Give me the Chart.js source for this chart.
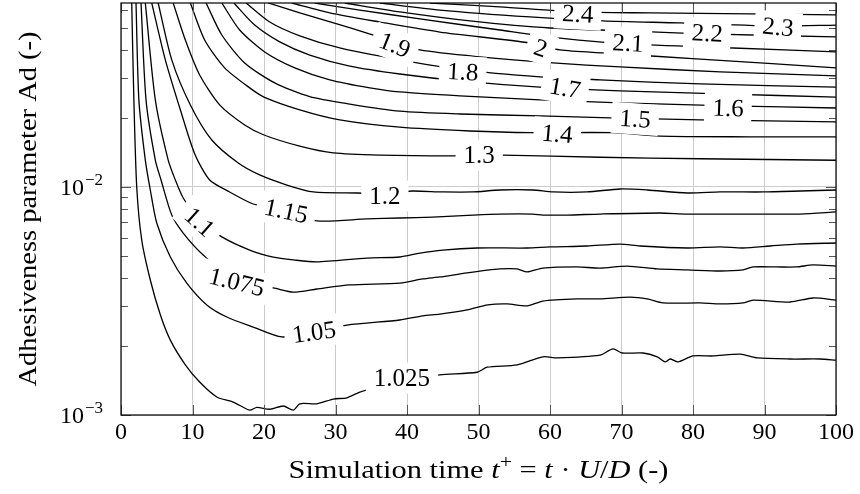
<!DOCTYPE html>
<html><head><meta charset="utf-8">
<script src="https://cdn.jsdelivr.net/npm/chart.js@4.4.0/dist/chart.umd.min.js"></script>
<style>html,body{margin:0;padding:0;background:#fff;}#wrap{width:860px;height:494px;}</style>
</head><body><div id="wrap"><canvas id="c" width="860" height="494"></canvas></div>
<script>
// Contour levels: each is a list of [t+, Ad] points
const L1025 = [[1.5,0.0641],[1.8,0.0241],[2.2,0.0100],[2.9,0.00585],[4.1,0.00391],[5.5,0.00275],[6.9,0.00213],[9.0,0.00166],[11.0,0.001395],[13.4,0.00120],[15.7,0.00114],[18.0,0.00105],[19.0,0.00108],[20.8,0.00106],[22.7,0.001095],[24.1,0.00105],[25.0,0.00112],[27.4,0.00112],[29.7,0.001175],[31.6,0.00119],[33.4,0.00126],[39.0,0.00142],[44.6,0.00150],[49.8,0.00154],[51.2,0.00162],[55.4,0.00166],[59.0,0.00180],[61.0,0.00178],[67.0,0.00183],[68.8,0.00195],[70.1,0.00187],[73.0,0.00187],[75.0,0.00180],[76.1,0.00171],[76.8,0.00176],[77.9,0.00171],[80.0,0.001815],[82.8,0.001815],[86.6,0.00185],[89.0,0.00178],[93.6,0.00176],[97.8,0.00176],[100,0.00174]];
const L105 = [[2.1,0.0641],[2.5,0.0241],[3.4,0.01312],[4.1,0.00970],[5.0,0.00695],[6.9,0.00493],[9.2,0.00379],[12.0,0.00304],[14.8,0.00269],[18.5,0.00243],[22.5,0.00220],[27.1,0.00231],[31.6,0.00248],[39.0,0.00261],[42.2,0.00272],[44.6,0.00277],[48.4,0.00289],[51.3,0.00304],[54.0,0.00307],[56.8,0.00301],[59.0,0.00316],[63.8,0.00323],[67.0,0.00323],[71.2,0.00329],[73.6,0.00323],[75.8,0.00310],[81.0,0.00310],[83.8,0.00307],[87.0,0.00310],[88.4,0.00319],[93.6,0.00313],[96.8,0.00326],[100,0.00319]];
const L1075 = [[2.8,0.0641],[3.5,0.0241],[4.8,0.01312],[5.6,0.01073],[7.1,0.00753],[8.7,0.00628],[11.5,0.00503],[16.2,0.00383],[21.3,0.00361],[24.1,0.00346],[27.4,0.00357],[32.0,0.00372],[39.0,0.00379],[42.2,0.00395],[44.6,0.00403],[48.4,0.00420],[53.0,0.00437],[55.4,0.00437],[56.8,0.00424],[59.0,0.00441],[63.8,0.00446],[67.0,0.00441],[70.8,0.00450],[75.0,0.00437],[79.2,0.00433],[83.8,0.00428],[87.0,0.00433],[88.4,0.00446],[91.7,0.00446],[94.5,0.00446],[96.8,0.00455],[100,0.00450]];
const L11 = [[3.4,0.0641],[4.8,0.0241],[6.6,0.01312],[7.6,0.01073],[8.7,0.00895],[11.0,0.00716],[14.1,0.00604],[18.0,0.00529],[21.3,0.00493],[24.1,0.00479],[27.4,0.00469],[34.4,0.00488],[39.0,0.00493],[41.8,0.00513],[45.0,0.00529],[49.8,0.00540],[56.8,0.00540],[60.0,0.00546],[65.2,0.00551],[69.8,0.00562],[72.6,0.00551],[79.2,0.00540],[83.8,0.00546],[87.0,0.00540],[90.8,0.00551],[94.5,0.00562],[100,0.00568]];
const L115 = [[4.3,0.0641],[6.2,0.0361],[8.3,0.0218],[10.3,0.0140],[12.4,0.01073],[15.2,0.00951],[18.5,0.00842],[22.9,0.00785],[27.4,0.00710],[34.4,0.00724],[39.0,0.00731],[43.6,0.00738],[49.2,0.00753],[53.0,0.00761],[57.6,0.00761],[59.0,0.00753],[62.4,0.00753],[67.0,0.00761],[75.4,0.00769],[79.2,0.00761],[90.4,0.00761],[95.0,0.00761],[100,0.00777]];
const L12 = [[5.2,0.0641],[7.1,0.0361],[9.7,0.0229],[12.7,0.01607],[16.4,0.01274],[19.4,0.01129],[23.2,0.01020],[26.9,0.00951],[33.0,0.00941],[36.9,0.00935],[40.7,0.00960],[45.0,0.00951],[49.2,0.00951],[53.0,0.00970],[57.6,0.00970],[60.4,0.00951],[65.2,0.00951],[69.8,0.00980],[73.6,0.00970],[79.2,0.00941],[83.8,0.00951],[89.8,0.00951],[95.0,0.00960],[100,0.00970]];
const L13 = [[7.3,0.0641],[9.0,0.0441],[11.0,0.0310],[13.8,0.0229],[17.3,0.0187],[20.0,0.0169],[25.0,0.0151],[29.7,0.0141],[36.2,0.0138],[46.4,0.0137],[53.4,0.0138],[67.0,0.0135],[81.0,0.0133],[100,0.0131]];
const L14 = [[9.7,0.0641],[11.7,0.0441],[14.5,0.0333],[18.0,0.0272],[20.0,0.0248],[25.0,0.0218],[30.6,0.0197],[39.0,0.0183],[48.8,0.0176],[57.2,0.0173],[68.8,0.0173],[75.4,0.0167],[88.0,0.0166],[100,0.0166]];
const L15 = [[11.9,0.0641],[14.1,0.0464],[17.3,0.0350],[21.5,0.0286],[26.4,0.0249],[32.0,0.0231],[39.0,0.0215],[47.4,0.0209],[58.6,0.0205],[68.4,0.0201],[81.0,0.0197],[100,0.0193]];
const L16 = [[14.1,0.0641],[16.6,0.0488],[20.1,0.0391],[24.3,0.0333],[29.2,0.0295],[34.8,0.0272],[39.0,0.0261],[47.4,0.0251],[58.6,0.0241],[69.8,0.0234],[84.9,0.0227],[100,0.0222]];
const L17 = [[15.8,0.0641],[18.7,0.0513],[22.2,0.0433],[26.4,0.0379],[32.0,0.0339],[39.0,0.0313],[47.4,0.0292],[58.6,0.0274],[69.8,0.0264],[83.8,0.0256],[100,0.0248]];
const L18 = [[17.5,0.0641],[20.8,0.0529],[25.0,0.0460],[30.6,0.0407],[39.0,0.0361],[47.8,0.0326],[58.6,0.0304],[67.0,0.0295],[81.0,0.0283],[100,0.0274]];
const L19 = [[20.6,0.0641],[25.0,0.0580],[30.2,0.0519],[34.4,0.0473],[38.3,0.0433],[41.8,0.0399],[50.2,0.0372],[60.4,0.0350],[69.8,0.0336],[83.8,0.0320],[100,0.0307]];
const L20 = [[23.9,0.0641],[29.2,0.0580],[36.2,0.0529],[44.6,0.0478],[57.2,0.0428],[61.4,0.0399],[67.4,0.0387],[81.0,0.0364],[100,0.0333]];
const L21 = [[27.1,0.0641],[33.4,0.0597],[41.8,0.0546],[53.0,0.0488],[61.4,0.0450],[70.9,0.0424],[85.6,0.0407],[100,0.0391]];
const L22 = [[31.3,0.0641],[39.0,0.0586],[48.8,0.0535],[60.0,0.0498],[75.0,0.0478],[82.0,0.0469],[100,0.0455]];
const L23 = [[36.2,0.0641],[44.6,0.0597],[57.2,0.0557],[67.4,0.0535],[78.2,0.0524],[91.9,0.0508],[100,0.0513]];
const L24 = [[43.2,0.0641],[53.0,0.0616],[63.9,0.0586],[74.0,0.0580],[88.0,0.0574],[100,0.0568]];

const levelNames = ['1.025','1.05','1.075','1.1','1.15','1.2','1.3','1.4','1.5','1.6','1.7','1.8','1.9','2','2.1','2.2','2.3','2.4'];
const levelLines = [L1025,L105,L1075,L11,L115,L12,L13,L14,L15,L16,L17,L18,L19,L20,L21,L22,L23,L24];

// inline contour labels: text, where it sits [t+, Ad], rotation (deg)
const labelText  = ['2.4','2.3','2.2','2.1','2','1.9','1.8','1.7','1.6','1.5','1.4','1.3','1.2','1.15','1.1','1.075','1.05','1.025'];
const labelAt    = [[63.9,0.0574],[91.9,0.0503],[82.0,0.0473],[70.9,0.0428],[58.7,0.0407],[38.3,0.0420],[47.8,0.0320],[62.1,0.0272],[84.9,0.0222],[71.9,0.0199],[61.0,0.0171],[50.1,0.0138],[36.9,0.00913],[23.1,0.00785],[11.0,0.00702],[16.2,0.00383],[27.0,0.00231],[39.3,0.001453]];
const labelAngle = [3,5,3,3,18,22,3,10,2,4,5,0,0,12,42,14,-8,0];

const xTicks = [0,10,20,30,40,50,60,70,80,90,100];
const yMajor = [0.001, 0.01];
const yMinor = [0.002,0.003,0.004,0.005,0.006,0.007,0.008,0.009,0.02,0.03,0.04,0.05,0.06];

const SERIF = "'Liberation Serif', 'DejaVu Serif', serif";
Chart.defaults.font.family = SERIF;

function richWidth(ctx, parts){
  let w=0; parts.forEach(p=>{ctx.font=p[1]; w+=ctx.measureText(p[0]).width;}); return w;
}
function drawRich(ctx, parts, cx, baseY, targetW){
  const w = richWidth(ctx, parts);
  const sx = targetW ? targetW / w : 1;
  ctx.save();
  ctx.translate(cx, baseY);
  ctx.scale(sx, 1);
  let x = -w/2;
  ctx.textAlign='left'; ctx.textBaseline='alphabetic'; ctx.fillStyle='#000';
  parts.forEach(p=>{ctx.font=p[1]; ctx.fillText(p[0], x, p[2]||0); x+=ctx.measureText(p[0]).width;});
  ctx.restore();
}

const decor = {
  id:'decor',
  afterDatasetsDraw(chart){
    const ctx = chart.ctx, a = chart.chartArea, xs = chart.scales.x, ys = chart.scales.y;
    ctx.save();
    // tick marks (inside)
    ctx.strokeStyle = '#555'; ctx.lineWidth = 1;
    ctx.beginPath();
    yMinor.forEach(v=>{const py=Math.round(ys.getPixelForValue(v))+0.5;
      ctx.moveTo(a.left,py); ctx.lineTo(a.left+7,py); ctx.moveTo(a.right,py); ctx.lineTo(a.right-7,py);});
    yMajor.forEach(v=>{const py=Math.round(ys.getPixelForValue(v))+0.5;
      ctx.moveTo(a.left,py); ctx.lineTo(a.left+10,py); ctx.moveTo(a.right,py); ctx.lineTo(a.right-10,py);});
    xTicks.forEach(v=>{const px=Math.round(xs.getPixelForValue(v))+0.5;
      ctx.moveTo(px,a.bottom); ctx.lineTo(px,a.bottom-10); ctx.moveTo(px,a.top); ctx.lineTo(px,a.top+10);});
    ctx.stroke();

    // contour labels with white boxes
    ctx.font = "25px " + SERIF;
    labelText.forEach((t,i)=>{
      const px = xs.getPixelForValue(labelAt[i][0]), py = ys.getPixelForValue(labelAt[i][1]);
      const w = ctx.measureText(t).width + 16, h = 31;
      ctx.save(); ctx.translate(px,py); ctx.rotate(labelAngle[i]*Math.PI/180);
      ctx.fillStyle = '#fff'; ctx.fillRect(-w/2,-h/2,w,h);
      ctx.fillStyle = '#000'; ctx.textAlign='center'; ctx.textBaseline='alphabetic';
      ctx.fillText(t, 0, 8);
      ctx.restore();
    });

    // frame
    ctx.strokeStyle = '#000'; ctx.lineWidth = 1.2;
    ctx.strokeRect(a.left, a.top, a.right-a.left, a.bottom-a.top);

    // y tick labels 10^-3, 10^-2
    const supTxt = ['\u22123','\u22122'];
    yMajor.forEach((v,i)=>{
      const py = ys.getPixelForValue(v);
      ctx.fillStyle='#000'; ctx.textBaseline='alphabetic';
      ctx.font = "17px " + SERIF; const sw = ctx.measureText(supTxt[i]).width;
      const supX = a.left - 18 - sw;
      ctx.textAlign='left'; ctx.fillText(supTxt[i], supX, py - 2);
      ctx.font = "24px " + SERIF; ctx.textAlign='right'; ctx.fillText('10', supX - 1, py + 8);
    });

    // axis titles
    const R = "25px " + SERIF, I = "italic 25px " + SERIF, S = "18px " + SERIF;
    drawRich(ctx, [['Simulation time ',R],['t',I],['+',S,-10],[' = ',R],['t',I],[' \u00B7 ',R],['U',I],['/',R],['D',I],[' (-)',R]],
      (a.left+a.right)/2, 478, 380);
    ctx.save(); ctx.translate(36, (a.top+a.bottom)/2); ctx.rotate(-Math.PI/2);
    drawRich(ctx, [['Adhesiveness parameter Ad (-)',R]], 0, 0, 355);
    ctx.restore();
    ctx.restore();
  }
};

const datasets = levelLines.map((pts,i)=>({
  label: levelNames[i],
  data: pts.map(p=>({x:p[0], y:p[1]})),
  showLine: true, borderColor:'#000', borderWidth:1.3, pointRadius:0, tension:0.25, fill:false
}));

new Chart(document.getElementById('c'), {
  type:'scatter',
  data:{datasets},
  options:{
    responsive:false, animation:false, devicePixelRatio:1,
    layout:{padding:{left:0,right:24,top:3,bottom:0}},
    plugins:{legend:{display:false}, tooltip:{enabled:false}},
    scales:{
      x:{type:'linear', min:0, max:100,
         afterBuildTicks(s){ s.ticks = xTicks.map(v=>({value:v})); },
         ticks:{color:'#000', font:{size:24}, padding:3, maxRotation:0, autoSkip:false},
         grid:{color:'#cccccc', lineWidth:1, drawTicks:false},
         border:{display:false},
         afterFit(s){ s.height = 79; }},
      y:{type:'logarithmic', min:0.001, max:0.0641,
         afterBuildTicks(s){ s.ticks = yMajor.map(v=>({value:v})); },
         ticks:{display:false},
         grid:{color:'#cccccc', lineWidth:1, drawTicks:false},
         border:{display:false},
         afterFit(s){ s.width = 121; }}
    }
  },
  plugins:[decor]
});
</script></body></html>
